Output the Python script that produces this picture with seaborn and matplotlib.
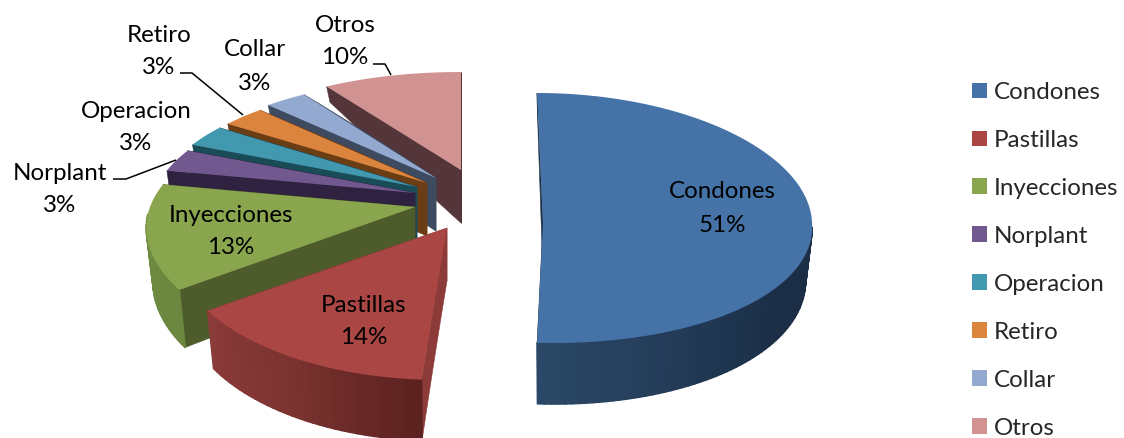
import numpy as np
import seaborn as sns
import matplotlib
matplotlib.use("Agg")
import matplotlib.pyplot as plt
from matplotlib.collections import PolyCollection
from matplotlib.colors import LinearSegmentedColormap
from matplotlib.patches import Patch
from matplotlib.path import Path
from matplotlib.transforms import Affine2D, Transform

# Survey shares by method
methods = ["Condones", "Pastillas", "Inyecciones", "Norplant",
           "Operacion", "Retiro", "Collar", "Otros"]
shares = [51, 14, 13, 3, 3, 3, 3, 10]

# Colours: top face, radial cut, and rim shading from low to high angle
top_colors = ["#4572A7", "#AA4643", "#89A54E", "#71588F",
              "#4198AF", "#DB843D", "#93A9CF", "#D19392"]
cut_colors = ["#1C3047", "#8C3B39", "#4D5C2A", "#2E2240",
              "#1A4C58", "#6A3D14", "#3E4A60", "#54363A"]
rim_stops = [["#2B4868", "#1B2E46", "#1B2E46", "#1B2E46"],
             ["#8B3B39", "#7A3330", "#5C2220"],
             ["#7E9A4A", "#6F8B41", "#6B873F"],
             ["#2E2240", "#2E2240"],
             ["#1A4C58", "#1A4C58"],
             ["#6A3D14", "#6A3D14"],
             ["#3E4A60", "#3E4A60"],
             ["#54363A", "#54363A"]]

# Per-slice view: where each exploded tip lands, and how the disc is foreshortened
tip_x = [543, 447, 415, 415, 417, 427, 436, 461]
tip_y = [222, 228, 207, 193, 187, 183, 178, 170]
disc_width = [269, 265, 265, 261, 258, 260, 261, 265]
disc_taper = [0, 45, 45, 45, 45, 45, 45, 45]
disc_curve = [-4, 27, 27, 27, 27, 27, 27, 27]
skew_back = [-6, 0, 0, 0, 0, 0, 0, 0]
skew_front = [11, -6, 0, 0, 0, 0, 0, 0]

# Data label centres and leader lines, in figure pixels
label_x = [722, 364, 231, 60, 136, 159, 255, 345]
label_y = [192, 305, 215, 173, 111, 35, 50, 25]
leaders = [[(113, 179), (126, 179), (176, 160)],
           [(180, 73), (192, 73), (243, 115)],
           [(373, 64), (385, 64), (391, 75)]]

FONT_SIZE = 17.4
LINE_STEP = 33


def project(u, v, i, drop=0.0):
    """Map pie-plane coordinates to pixels; drop=1 gives the underside."""
    u, v = np.asarray(u, float), np.asarray(v, float)
    skew = np.where(v >= 0, skew_back[i] * v, -skew_front[i] * v)
    half_width = disc_width[i] - disc_taper[i] * v
    x = tip_x[i] + half_width * u * (1 - 0.025 * drop) + skew
    y = tip_y[i] - (125 * v - disc_curve[i] * v ** 2)
    depth = np.where(v >= 0, 53 - 46 * v, 53 - 8 * v)
    return x, y + drop * depth


class SliceProjection(Transform):
    input_dims = output_dims = 2
    is_affine = False
    has_inverse = False

    def __init__(self, index):
        super().__init__()
        self.index = index

    def transform_non_affine(self, values):
        x, y = project(values[:, 0], values[:, 1], self.index)
        return np.column_stack([x, y])

    def transform_path_non_affine(self, path):
        # flatten the arcs first so the projection bends them smoothly
        poly = path.to_polygons(Affine2D().scale(600))[0] / 600
        return Path(self.transform_non_affine(poly), closed=True)


sns.set_theme(style="white")
plt.rcParams["font.family"] = ["Lato", "DejaVu Sans"]

fig = plt.figure(figsize=(11.24, 4.38), dpi=100, facecolor="white")
ax = fig.add_axes([0, 0, 1, 1])
palette = sns.color_palette(top_colors)

wedges, _ = ax.pie(shares, colors=palette, startangle=90, counterclock=False,
                   wedgeprops={"linewidth": 0})
ax.set_aspect("auto")
ax.set_xlim(0, 1124)
ax.set_ylim(438, 0)
ax.axis("off")

# Paint back to front: each slice lays down its cuts, then rim, then top
for order, i in enumerate(reversed(range(len(shares)))):
    wedge = wedges[i]
    base = 10 + 3 * order
    th = np.radians([wedge.theta1, wedge.theta2])

    r = np.linspace(0, 1, 30)
    for angle in th:
        u, v = r * np.cos(angle), r * np.sin(angle)
        xt, yt = project(u, v, i)
        xb, yb = project(u, v, i, 1)
        ax.fill(np.r_[xt, xb[::-1]], np.r_[yt, yb[::-1]], color=cut_colors[i],
                lw=0.4, zorder=base)

    # wide bands, each overlapping the next, keep the shading free of seams;
    # the rim on the far half of the disc sits behind the top face, so skip it
    ang = np.linspace(th[0], th[1], max(6, int(np.degrees(th[1] - th[0]) / 1.5)))
    xt, yt = project(np.cos(ang), np.sin(ang), i)
    xb, yb = project(np.cos(ang), np.sin(ang), i, 1)
    shade = LinearSegmentedColormap.from_list("rim", rim_stops[i])
    tones = shade(np.linspace(0, 1, len(ang) - 1))
    front = [k for k in range(len(ang) - 1) if np.sin(ang[k]) < -0.03 and np.sin(ang[k + 1]) < -0.03]
    quads = [[(xt[k], yt[k]), (xt[k + 1], yt[k + 1]), (xb[k + 1], yb[k + 1]), (xb[k], yb[k])]
             for k in front]
    if quads:
        ax.add_collection(PolyCollection(
            quads, facecolors=tones[front], edgecolors="face",
            linewidths=1.2, zorder=base + 1))

    wedge.set_transform(SliceProjection(i) + ax.transData)
    wedge.set_zorder(base + 2)

# Data labels: name over rounded percentage
for i, name in enumerate(methods):
    ax.text(label_x[i], label_y[i], name, ha="center", va="center",
            fontsize=FONT_SIZE, color="black", zorder=60)
    ax.text(label_x[i], label_y[i] + LINE_STEP, f"{shares[i]}%", ha="center", va="center",
            fontsize=FONT_SIZE, color="black", zorder=60)

for line in leaders:
    xs, ys = zip(*line)
    ax.plot(xs, ys, color="black", lw=1.1, zorder=60, solid_capstyle="butt")

handles = [Patch(facecolor=c, edgecolor="none") for c in top_colors]
ax.legend(handles, methods, loc="upper left", bbox_to_anchor=(972 / 1124, 1 - 82 / 438),
          bbox_transform=ax.transAxes, frameon=False, fontsize=FONT_SIZE, borderpad=0,
          borderaxespad=0, handlelength=0.63, handleheight=0.63, handletextpad=0.27,
          labelspacing=1.115)

fig.savefig("out.png", dpi=100, facecolor="white")
